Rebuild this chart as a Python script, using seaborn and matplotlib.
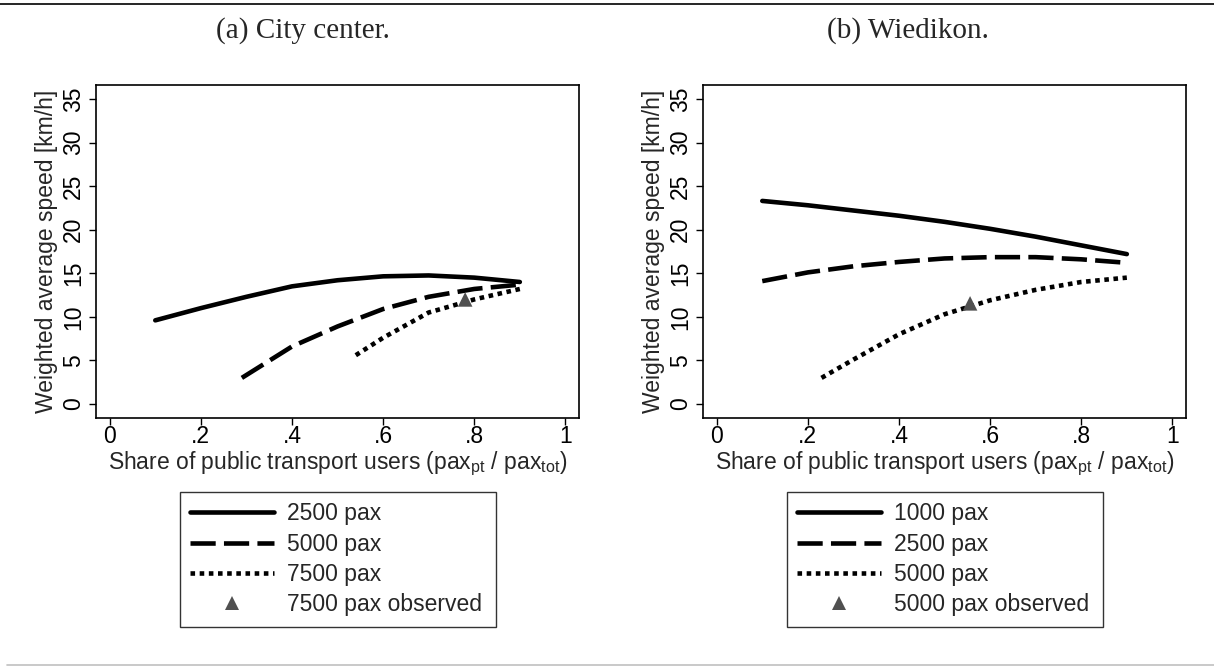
import seaborn as sns
import matplotlib.pyplot as plt
from matplotlib.lines import Line2D

# (a) City center
city_x_2500 = [0.1, 0.2, 0.3, 0.4, 0.5, 0.6, 0.7, 0.8, 0.9]
city_y_2500 = [9.6, 11.0, 12.3, 13.5, 14.2, 14.65, 14.75, 14.5, 14.0]
city_x_5000 = [0.29, 0.4, 0.5, 0.6, 0.7, 0.8, 0.9]
city_y_5000 = [3.0, 6.6, 8.9, 10.9, 12.3, 13.2, 13.7]
city_x_7500 = [0.54, 0.6, 0.7, 0.8, 0.9]
city_y_7500 = [5.6, 7.6, 10.5, 12.0, 13.2]
city_obs = (0.78, 12.0)

# (b) Wiedikon
wied_x_1000 = [0.1, 0.2, 0.3, 0.4, 0.5, 0.6, 0.7, 0.8, 0.9]
wied_y_1000 = [23.3, 22.8, 22.2, 21.6, 20.9, 20.1, 19.2, 18.2, 17.2]
wied_x_2500 = [0.1, 0.2, 0.3, 0.4, 0.5, 0.6, 0.7, 0.8, 0.9]
wied_y_2500 = [14.1, 15.1, 15.8, 16.3, 16.7, 16.85, 16.85, 16.6, 16.2]
wied_x_5000 = [0.23, 0.3, 0.4, 0.5, 0.6, 0.7, 0.8, 0.9]
wied_y_5000 = [3.0, 5.1, 8.0, 10.3, 11.9, 13.1, 14.0, 14.5]
wied_obs = (0.556, 11.55)

x_ticks = [0, 0.2, 0.4, 0.6, 0.8, 1]
x_tick_labels = ['0', '.2', '.4', '.6', '.8', '1']
y_ticks = [0, 5, 10, 15, 20, 25, 30, 35]

sns.set_style('ticks')
plt.rcParams['font.family'] = ['Liberation Sans', 'DejaVu Sans']
plt.rcParams['mathtext.fontset'] = 'custom'
plt.rcParams['mathtext.rm'] = 'Liberation Sans'

styles = [
    dict(linestyle='-', solid_capstyle='round'),
    dict(linestyle=(0, (5.5, 1.8)), dash_capstyle='butt'),
    dict(linestyle=(0, (1, 1)), dash_capstyle='butt'),
]
LW = 3.3
FS = 16.5

fig = plt.figure(figsize=(12.14, 6.66), dpi=100)
ax1 = fig.add_axes([0.0791, 0.3724, 0.3979, 0.5])
ax2 = fig.add_axes([0.5791, 0.3724, 0.3979, 0.5])

panels = [
    (ax1, [(city_x_2500, city_y_2500, '2500 pax'),
           (city_x_5000, city_y_5000, '5000 pax'),
           (city_x_7500, city_y_7500, '7500 pax')],
     city_obs, '7500 pax observed'),
    (ax2, [(wied_x_1000, wied_y_1000, '1000 pax'),
           (wied_x_2500, wied_y_2500, '2500 pax'),
           (wied_x_5000, wied_y_5000, '5000 pax')],
     wied_obs, '5000 pax observed'),
]

for ax, series, obs, obs_label in panels:
    handles = []
    for (xs, ys, lab), st in zip(series, styles):
        sns.lineplot(x=xs, y=ys, ax=ax, color='black', lw=LW, legend=False, **st)
        handles.append(Line2D([], [], color='black', lw=LW, label=lab, **st))
    sns.scatterplot(x=[obs[0]], y=[obs[1]], ax=ax, marker='^', s=110,
                    color='#505050', edgecolor='none', legend=False, zorder=3)
    handles.append(Line2D([], [], ls='none', marker='^', markersize=10,
                          color='#505050', markeredgewidth=0, label=obs_label))

    ax.set_xlim(-0.03, 1.03)
    ax.set_ylim(-1.6, 36.6)
    ax.set_xticks(x_ticks)
    ax.set_xticklabels(x_tick_labels)
    ax.set_yticks(y_ticks)
    ax.set_yticklabels([str(v) for v in y_ticks], rotation=90, va='center')
    ax.tick_params(direction='out', length=5, width=1.0, labelsize=FS,
                   colors='black', pad=3)
    ax.tick_params(axis='x', pad=0)
    for sp in ax.spines.values():
        sp.set_linewidth(1.2)
        sp.set_color('black')
    ax.set_xlabel('Share of public transport users (pax$_\\mathregular{pt}$ / pax$_\\mathregular{tot}$)',
                  fontsize=FS, labelpad=1)
    ax.set_ylabel('Weighted average speed [km/h]', fontsize=FS, labelpad=3)

    leg = ax.legend(handles=handles, loc='upper left',
                    bbox_to_anchor=(0.174, -0.222, 0.654, 0.0), mode='expand',
                    borderaxespad=0, frameon=True, fancybox=False, fontsize=FS,
                    handlelength=3.65, handletextpad=0.56, labelspacing=0.32,
                    borderpad=0.45)
    leg.get_frame().set_edgecolor('black')
    leg.get_frame().set_linewidth(1.0)

fig.text(0.2496, 1 - 31 / 666, '(a) City center.', ha='center', va='center',
         fontsize=21, family='Liberation Serif')
fig.text(0.748, 1 - 31 / 666, '(b) Wiedikon.', ha='center', va='center',
         fontsize=21, family='Liberation Serif')

fig.add_artist(Line2D([0, 1], [1 - 3.5 / 666, 1 - 3.5 / 666], color='black', lw=1.2))
fig.add_artist(Line2D([7 / 1214, 1], [1 / 666, 1 / 666], color='#c0c0c0', lw=1.2))

fig.savefig('out.png', dpi=100)
